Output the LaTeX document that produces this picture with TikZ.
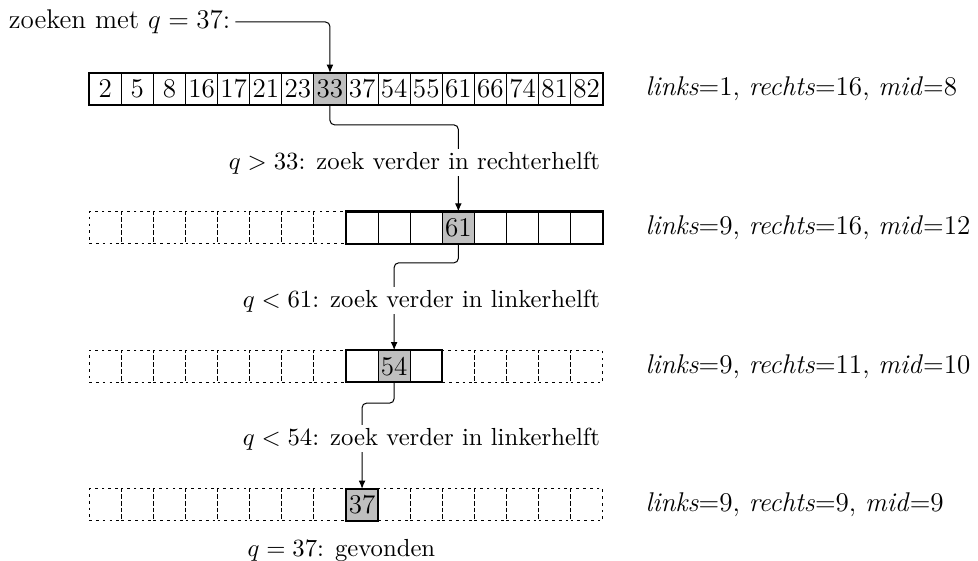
\documentclass[tikz,border=0pt,12pt]{standalone}
\usepackage{xcolor,tikz}
\usetikzlibrary{arrows.meta}
\definecolor{hitgrey}{HTML}{BFBFBF}
\newcommand{\stap}{\small}

\begin{document}
\begin{tikzpicture}[x=5mm,y=5mm,
  cell/.style={draw,line width=0.4pt,minimum size=5mm,inner sep=0pt,outer sep=0pt},
  idle/.style={cell,dash pattern=on 1.2pt off 1.8pt},
  hit/.style={cell,fill=hitgrey},
  span/.style={line width=0.9pt},
  link/.style={line width=0.45pt,rounded corners=2pt,-{Latex[length=3.6pt,width=3pt]}},
  note/.style={fill=white,inner sep=1pt,font=\stap},
  state/.style={anchor=west,inner sep=1pt}]
\useasboundingbox (-2.78,2.77) rectangle (27.69,-14.68);
\foreach \i/\v in {1/2,2/5,3/8,4/16,5/17,6/21,7/23,9/37,10/54,11/55,12/61,13/66,14/74,15/81,16/82}
  \node[cell] (a\i) at (\i-0.5,0) {\v};
\node[hit] (a8) at (7.5,0) {33};
\draw[span] (a1.north west) rectangle (a16.south east);
\foreach \i in {1,...,8} \node[idle] (b\i) at (\i-0.5,-4.32) {};
\foreach \i in {9,10,11,13,14,15,16} \node[cell] (b\i) at (\i-0.5,-4.32) {};
\node[hit] (b12) at (11.5,-4.32) {61};
\draw[span] (b9.north west) rectangle (b16.south east);
\foreach \i in {1,...,8,12,13,14,15,16} \node[idle] (c\i) at (\i-0.5,-8.64) {};
\foreach \i in {9,11} \node[cell] (c\i) at (\i-0.5,-8.64) {};
\node[hit] (c10) at (9.5,-8.64) {54};
\draw[span] (c9.north west) rectangle (c11.south east);
\foreach \i in {1,...,8,10,11,12,13,14,15,16} \node[idle] (d\i) at (\i-0.5,-12.96) {};
\node[hit] (d9) at (8.5,-12.96) {37};
\draw[span] (d9.north west) rectangle (d9.south east);
\node[anchor=east,inner sep=2pt] (query) at (4.55,2.085) {zoeken met $q=37$:};
\draw[link] (query.east) -| (a8.north);
\draw[link] (a8.south) -- ++(0,-0.62) -| (b12.north);
\draw[link] (b12.south) -- ++(0,-0.6) -| (c10.north);
\draw[link] (c10.south) -- ++(0,-0.65) -| (d9.north);
\node[note,anchor=east] (n1) at (16,-2.3) {$q>33$: zoek verder in rechterhelft};
\node[note,anchor=east] (n2) at (16,-6.6) {$q<61$: zoek verder in linkerhelft};
\node[note,anchor=east] (n3) at (16,-10.9) {$q<54$: zoek verder in linkerhelft};
\node[note,anchor=west] (n4) at (4.85,-14.37) {$q=37$: gevonden};
\node[state] (s1) at (17.25,0) {\textit{links}=1, \textit{rechts}=16, \textit{mid}=8};
\node[state] (s2) at (17.25,-4.32) {\textit{links}=9, \textit{rechts}=16, \textit{mid}=12};
\node[state] (s3) at (17.25,-8.64) {\textit{links}=9, \textit{rechts}=11, \textit{mid}=10};
\node[state] (s4) at (17.25,-12.96) {\textit{links}=9, \textit{rechts}=9, \textit{mid}=9};
\end{tikzpicture}
\end{document}
